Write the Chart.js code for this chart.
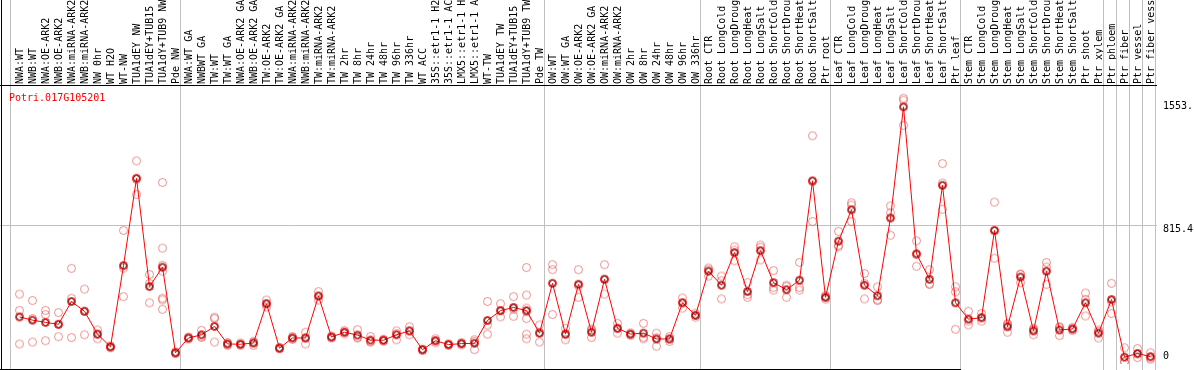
<!DOCTYPE html>
<html><head><meta charset="utf-8">
<script src="https://cdn.jsdelivr.net/npm/chart.js@4.4.1/dist/chart.umd.min.js"></script>
<style>html,body{margin:0;padding:0;background:#fff;overflow:hidden}</style>
</head><body>
<canvas id="c" width="1194" height="370" style="display:block;width:1194px;height:370px"></canvas>
<script>
const geneName = 'Potri.017G105201';
const categories = [
 'NWA:WT','NWB:WT','NWA:OE-ARK2','NWB:OE-ARK2','NWA:miRNA-ARK2','NWB:miRNA-ARK2','NW 0hr','WT H2O','WT-NW','TUA1dEY NW','TUA1dEY+TUB15 NW','TUA1dY+TUB9 NW','Pde NW',
 'NWA:WT GA','NWBWT GA','TW:WT','TW:WT GA','NWA:OE-ARK2 GA','NWB:OE-ARK2 GA','TW:OE-ARK2','TW:OE-ARK2 GA','NWA:miRNA-ARK2 GA','NWB:miRNA-ARK2 GA','TW:miRNA-ARK2','TW:miRNA-ARK2 GA',
 'TW 2hr','TW 8hr','TW 24hr','TW 48hr','TW 96hr','TW 336hr','WT ACC','35S::etr1-1 H2O','35S::etr1-1 ACC','LMX5::etr1-1 H2O','LMX5::etr1-1 ACC','WT-TW','TUA1dEY TW','TUA1dEY+TUB15 TW','TUA1dY+TUB9 TW','Pde TW',
 'OW:WT','OW:WT GA','OW:OE-ARK2','OW:OE-ARK2 GA','OW:miRNA-ARK2','OW:miRNA-ARK2 GA','OW 2hr','OW 8hr','OW 24hr','OW 48hr','OW 96hr','OW 336hr',
 'Root CTR','Root LongCold','Root LongDrought','Root LongHeat','Root LongSalt','Root ShortCold','Root ShortDrought','Root ShortHeat','Root ShortSalt','Ptr root',
 'Leaf CTR','Leaf LongCold','Leaf LongDrought','Leaf LongHeat','Leaf LongSalt','Leaf ShortCold','Leaf ShortDrought','Leaf ShortHeat','Leaf ShortSalt','Ptr leaf',
 'Stem CTR','Stem LongCold','Stem LongDrought','Stem LongHeat','Stem LongSalt','Stem ShortCold','Stem ShortDrought','Stem ShortHeat','Stem ShortSalt','Ptr shoot','Ptr xylem',
 'Ptr phloem','Ptr fiber','Ptr vessel','Ptr fiber vessel'
];
const meanValues = [
 247,227,213,201,343,282,140,61,566,1109,436,556,24,
 116,136,188,79,77,85,329,53,116,116,377,122,
 152,134,103,102,136,160,43,99,75,81,83,225,286,306,286,146,
 456,140,450,152,481,176,140,146,110,110,335,257,
 531,444,647,405,659,460,416,475,1093,369,
 718,913,444,379,862,1553,639,481,1065,335,
 233,243,785,186,495,160,531,166,172,335,146,
 355,-3,20,0
];
const replicateValues = [
 [389,288,79],[349,237,91],[288,262,99],[274,201,124],[549,363,119],[420,282,136],[166,140,111],[55,61,67],[785,551,373],[1217,1102,1008],[511,456,335],[1083,675,568,531,363,353,294],[20,24,30],
 [110,116,122],[164,125,119],[245,237,91],[88,79,70],[85,77,70],[95,85,70],[352,329,309],[57,53,49],[125,116,107],[152,116,79],[404,377,352],[128,122,116],
 [162,152,142],[168,120,116],[125,95,90],[108,102,96],[160,143,105],[186,160,136],[47,43,39],[111,99,87],[80,75,70],[88,81,74],[105,95,44],[343,197,140],[329,286,247],[373,295,251],[554,383,302,280,237,140,111],[197,150,91],
 [572,541,262],[176,140,105],[541,440,369],[172,165,119],[572,481,389],[207,176,146],[148,140,132],[207,121,111],[146,118,65],[125,110,95],[365,335,302],[270,257,245],
 [551,540,501],[501,472,359],[683,662,596],[460,386,369],[694,680,602],[535,431,414],[444,435,369],[586,430,414],[1373,1089,840],[380,369,358],
 [779,692,683],[957,942,840],[517,456,359],[434,354,349],[937,894,755],[1606,1594,1438],[720,635,562],[541,452,450],[1200,1079,916],[434,403,170],
 [282,221,197],[268,240,221],[961,782,612],[205,200,152],[514,511,460],[176,168,136],[586,557,450],[186,181,131],[182,172,162],[396,356,253],[166,156,116],
 [456,341,268],[55,-30,-34],[50,16,-6],[24,-8,-16]
];
const yTickValues = [0, 815.4, 1553.1];
const yTickLabels = ['0', '815.4', '1553.'];
const gridValue = 815.4;
const sectionEnds = [13, 41, 53, 63, 73, 84, 85, 86, 87, 88];

const Y_MIN = -45.64, Y_MAX = 1682.5;
const midLabelShiftPx = 4;
const FONT = 'DejaVu Sans Mono';

function makeMarker(ring, inner) {
  const c = document.createElement('canvas');
  c.width = 13; c.height = 13;
  const g = c.getContext('2d');
  g.lineWidth = 1;
  g.strokeStyle = ring;
  g.beginPath(); g.arc(6.5, 6.5, 4, 0, Math.PI * 2); g.stroke();
  if (inner) {
    g.strokeStyle = inner;
    g.beginPath(); g.arc(6.5, 6.5, 3, 0, Math.PI * 2); g.stroke();
  }
  return c;
}
const meanMarker = makeMarker('#ff0000', '#500000');
const repMarker = makeMarker('rgba(225,70,70,0.6)', null);

const repPoints = [];
replicateValues.forEach((arr, i) => arr.forEach(v => repPoints.push({x: categories[i], y: v})));

const decor = {
  id: 'decor',
  beforeDatasetsDraw(chart) {
    const {ctx, chartArea: a, scales: {x, y}} = chart;
    ctx.save();
    ctx.strokeStyle = '#c0c0c0';
    ctx.lineWidth = 1;
    ctx.beginPath();
    const cols = [Math.floor(x.getPixelForValue(0) - 9)];
    sectionEnds.forEach(n => cols.push(Math.floor(x.getPixelForValue(n - 1) + 5)));
    cols.forEach(c => { ctx.moveTo(c + 0.5, 0); ctx.lineTo(c + 0.5, chart.height); });
    const gy = Math.floor(y.getPixelForValue(gridValue)) + 0.5;
    ctx.moveTo(0, gy); ctx.lineTo(a.right, gy);
    ctx.stroke();
    ctx.restore();
  },
  afterDraw(chart) {
    const {ctx, chartArea: a} = chart;
    ctx.save();
    ctx.strokeStyle = '#000';
    ctx.lineWidth = 1;
    ctx.beginPath();
    ctx.moveTo(1.5, 0); ctx.lineTo(1.5, 370);
    ctx.moveTo(0, 85.5); ctx.lineTo(a.right, 85.5);
    ctx.moveTo(0, 369.5); ctx.lineTo(961, 369.5);
    ctx.stroke();
    ctx.fillStyle = '#ff0000';
    ctx.font = '10px "' + FONT + '"';
    ctx.textBaseline = 'alphabetic';
    ctx.fillText(geneName, 9, 101);
    ctx.restore();
  }
};

new Chart(document.getElementById('c'), {
  type: 'line',
  data: {
    labels: categories,
    datasets: [
      {
        data: meanValues,
        borderColor: '#ff0000',
        borderWidth: 1,
        tension: 0,
        fill: false,
        pointStyle: meanMarker,
        pointRadius: 5,
        pointHoverRadius: 5
      },
      {
        data: repPoints,
        showLine: false,
        borderColor: 'rgba(225,70,70,0.6)',
        pointStyle: repMarker,
        pointRadius: 4,
        pointHoverRadius: 4
      }
    ]
  },
  options: {
    responsive: false,
    devicePixelRatio: 1,
    animation: false,
    events: [],
    layout: {padding: {left: 13, right: 0, top: 0, bottom: 0}},
    plugins: {legend: {display: false}, tooltip: {enabled: false}, title: {display: false}},
    scales: {
      x: {
        type: 'category',
        position: 'top',
        offset: true,
        grid: {display: false, drawTicks: false},
        border: {display: false},
        ticks: {
          autoSkip: false, minRotation: 90, maxRotation: 90, padding: 2, labelOffset: 13,
          color: '#000', font: {family: FONT, size: 10}
        },
        afterFit(s) { s.height = 86; s.paddingLeft = 0; s.paddingRight = 0; }
      },
      y: {
        type: 'linear',
        position: 'right',
        min: Y_MIN, max: Y_MAX,
        grid: {display: false, drawTicks: false},
        border: {display: false},
        afterBuildTicks(s) {
          const ppu = 284 / (Y_MAX - Y_MIN);
          s.ticks = yTickValues.map((v, i) => ({value: i === 1 ? v - midLabelShiftPx / ppu : v}));
        },
        ticks: {
          padding: 6, color: '#000', font: {family: FONT, size: 10},
          callback: (v, i) => yTickLabels[i]
        },
        afterFit(s) { s.width = 37; s.paddingTop = 0; s.paddingBottom = 0; }
      }
    }
  },
  plugins: [decor]
});
</script>
</body></html>
